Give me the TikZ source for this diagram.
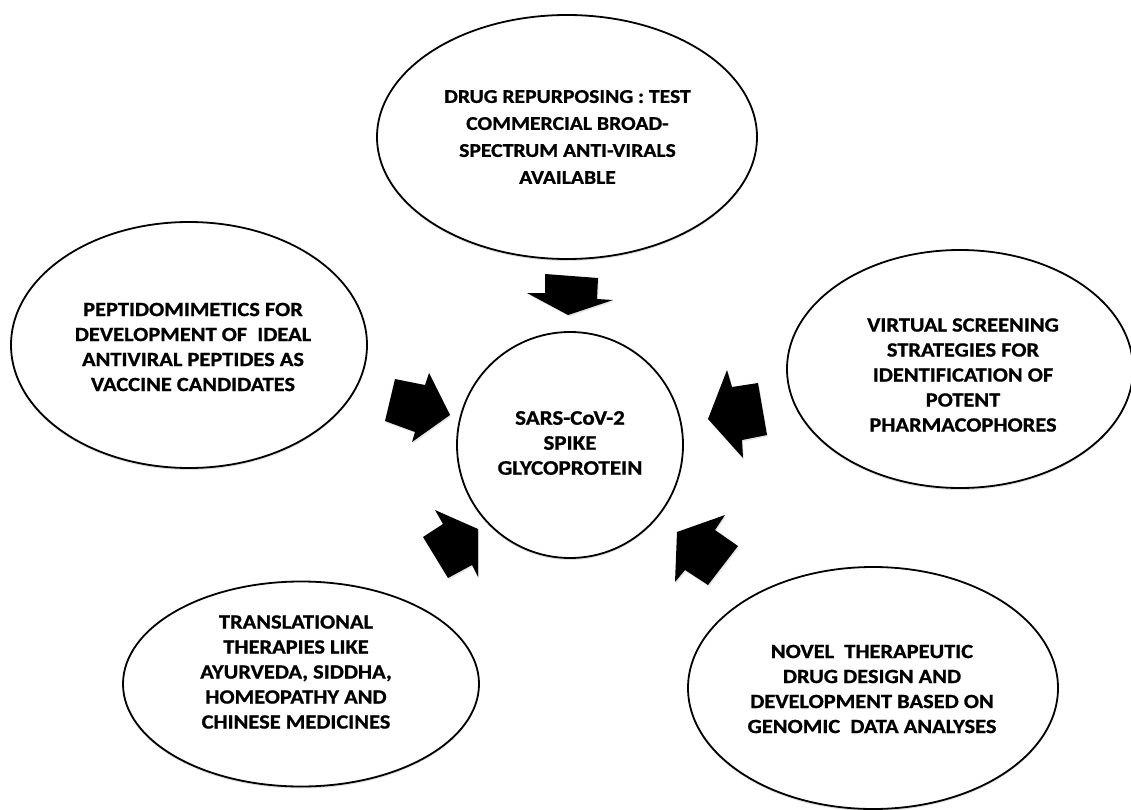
\documentclass[tikz,border=0pt]{standalone}
\usepackage{fontspec}
\setmainfont{Carlito}[FakeStretch=1.11, BoldFeatures={FakeBold=0.9}]
\usetikzlibrary{shapes.geometric,shadows}
\tikzset{
  bubble/.style={ellipse, draw=black, line width=1.8pt, fill=white, inner sep=0pt,
    drop shadow={opacity=0.25, shadow xshift=0pt, shadow yshift=-2pt}},
  label/.style={align=center, font=\fontsize{20.2}{25}\selectfont\bfseries, inner sep=0pt},
  blockarrow/.style={fill=black, draw=none,
    drop shadow={opacity=0.2, shadow xshift=1pt, shadow yshift=-1.5pt}}
}
\begin{document}
\begin{tikzpicture}[x=1pt,y=-1pt]
\useasboundingbox (0,0) rectangle (1131,810);
% ellipses
\node[bubble, minimum width=380pt, minimum height=244pt] (top) at (567,137) {};
\node[bubble, minimum width=356pt, minimum height=246pt] (left) at (189,345) {};
\node[bubble, minimum width=346pt, minimum height=238pt] (right) at (960,369) {};
\node[bubble, minimum width=356pt, minimum height=205pt] (bl) at (301,684) {};
\node[bubble, minimum width=370pt, minimum height=242pt] (br) at (873,688) {};
\node[bubble, circle, minimum size=226pt] (center) at (570,445) {};
% texts
\node[label, font=\fontsize{19.5}{27}\selectfont\bfseries] (ttop) at (567.5,137) {DRUG REPURPOSING : TEST\\COMMERCIAL BROAD-\\SPECTRUM ANTI-VIRALS\\AVAILABLE};
\node[label] (tleft) at (193,347) {PEPTIDOMIMETICS FOR\\DEVELOPMENT OF \ IDEAL\\ANTIVIRAL PEPTIDES AS\\VACCINE CANDIDATES};
\node[label] (tright) at (963,375) {VIRTUAL SCREENING\\STRATEGIES FOR\\IDENTIFICATION OF\\POTENT\\PHARMACOPHORES};
\node[label] (tbl) at (296,672) {TRANSLATIONAL\\THERAPIES LIKE\\AYURVEDA, SIDDHA,\\HOMEOPATHY AND\\CHINESE MEDICINES};
\node[label] (tbr) at (872,689) {NOVEL \ THERAPEUTIC\\DRUG DESIGN AND\\DEVELOPMENT BASED ON\\GENOMIC \ DATA ANALYSES};
\node[label, font=\fontsize{20.7}{25}\selectfont\bfseries] (tcenter) at (570,443) {SARS-CoV-2\\SPIKE\\GLYCOPROTEIN};
% block arrows
\fill[blockarrow] (545,274) -- (598,278) -- (597,299) -- (613,300) -- (568,315) -- (527,293) -- (545,293) -- cycle;
\fill[blockarrow] (395,379) -- (425,385) -- (429,373) -- (450,415) -- (412,442) -- (415,432) -- (385,421) -- cycle;
\fill[blockarrow] (708,419) -- (727,370) -- (732,387) -- (758,383) -- (767,435) -- (742,440) -- (743,458) -- cycle;
\fill[blockarrow] (435,510) -- (478,529) -- (478,577) -- (472,565) -- (448,578) -- (423,537) -- (443,524) -- cycle;
\fill[blockarrow] (677,532) -- (725,515) -- (715,530) -- (738,546) -- (708,585) -- (685,570) -- (675,582) -- cycle;
\end{tikzpicture}
\end{document}
